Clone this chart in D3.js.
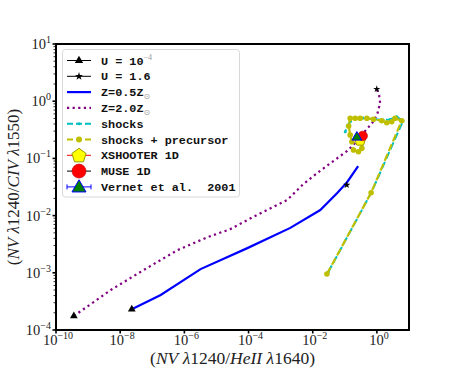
<!DOCTYPE html>
<html>
<head>
<meta charset="utf-8">
<script src="https://cdn.jsdelivr.net/npm/d3@7"></script>
<style>
  body { margin: 0; background: #fff; }
  svg { display: block; }
</style>
</head>
<body>
<div id="chart"></div>
<script>
// photoionisation track, Z = 0.5 Zsun (from U = 1e-4 upward)
const z05X = [2.3e-8, 1.83e-7, 3.2e-6, 9.2e-5, 2.0e-3, 0.0172, 0.058, 0.119, 0.26];
const z05Y = [2.3e-4, 4.1e-4, 1.16e-3, 2.7e-3, 6.1e-3, 0.0125, 0.0248, 0.0387, 0.0736];
const z05Star = [0.115, 0.0343];

// photoionisation track, Z = 2.0 Zsun (ends at U = 1.6)
const z2X = [3.6e-10, 5.1e-9, 5.4e-8, 6.2e-7, 5.3e-6, 2.7e-5, 1.4e-4, 1.6e-3, 5.1e-3, 1.39e-2,
             4.4e-2, 0.119, 0.243, 0.43, 0.71, 1.01, 1.26, 1.17, 0.99];
const z2Y = [1.76e-4, 5.0e-4, 1.12e-3, 2.5e-3, 4.2e-3, 5.8e-3, 9.5e-3, 1.87e-2, 3.56e-2, 5.56e-2,
             0.090, 0.135, 0.201, 0.301, 0.416, 0.574, 0.93, 1.28, 1.63];

// shock grids
const shockX = [0.0305, 0.684, 6.5, 4.15, 2.57, 1.56, 0.76, 0.372, 0.21, 0.147, 0.119, 0.103];
const shockY = [1.03e-3, 0.0259, 0.451, 0.536, 0.479, 0.469, 0.489, 0.508, 0.498, 0.438, 0.368, 0.293];
const precX = [0.0277, 0.66, 5.94, 3.68, 2.90, 2.03, 1.42, 0.78, 0.485, 0.30, 0.21, 0.147,
               0.132, 0.147, 0.166, 0.186, 0.266, 0.34, 0.34];
const precY = [9.5e-4, 0.0251, 0.456, 0.502, 0.438, 0.42, 0.456, 0.483, 0.502, 0.502, 0.502, 0.502,
               0.368, 0.256, 0.196, 0.140, 0.131, 0.150, 0.196];

// observations
const xshooter = [0.30, 0.206];
const muse = [0.36, 0.247];
const vernet = [0.237, 0.239];

const xTicks = [1e-10, 1e-8, 1e-6, 1e-4, 1e-2, 1e0];
const yTicks = [1e-4, 1e-3, 1e-2, 1e-1, 1e0, 1e1];

const W = 454, H = 371;
const margin = { top: 44, right: 45, bottom: 41, left: 56 };

const svg = d3.select("#chart").append("svg")
  .attr("width", W).attr("height", H);

const x = d3.scaleLog().domain([1e-10, 1e1]).range([margin.left, W - margin.right]);
const y = d3.scaleLog().domain([1e-4, 1e1]).range([H - margin.bottom, margin.top]);

const zip = (xs, ys) => xs.map((v, i) => [v, ys[i]]);
const line = d3.line().x(d => x(d[0])).y(d => y(d[1]));

const tickFont = "'Liberation Serif', 'DejaVu Serif', serif";
const expo = s => s.replace("-", "\u2212");

// y minor ticks
const yMinor = [];
for (let e = -4; e < 1; e++) for (let m = 2; m <= 9; m++) yMinor.push(m * Math.pow(10, e));
svg.append("g").selectAll("line").data(yMinor).join("line")
  .attr("x1", x.range()[0] - 2.5).attr("x2", x.range()[0])
  .attr("y1", d => y(d)).attr("y2", d => y(d))
  .attr("stroke", "#000").attr("stroke-width", 0.8);

// major ticks
svg.append("g").selectAll("line").data(yTicks).join("line")
  .attr("x1", x.range()[0] - 3.5).attr("x2", x.range()[0])
  .attr("y1", d => y(d)).attr("y2", d => y(d))
  .attr("stroke", "#000").attr("stroke-width", 1.6);
svg.append("g").selectAll("line").data(xTicks).join("line")
  .attr("x1", d => x(d)).attr("x2", d => x(d))
  .attr("y1", y.range()[0]).attr("y2", y.range()[0] + 3.5)
  .attr("stroke", "#000").attr("stroke-width", 1.6);

// tick labels
const yl = svg.append("g").selectAll("text").data(yTicks).join("text")
  .attr("x", x.range()[0] - 5).attr("y", d => y(d) + 5)
  .attr("text-anchor", "end")
  .attr("font-family", tickFont).attr("font-size", 14.5).attr("fill", "#222");
yl.append("tspan").text("10");
yl.append("tspan").attr("dy", -6).attr("font-size", 10)
  .text(d => expo(String(Math.round(Math.log10(d)))));

const xl = svg.append("g").selectAll("text").data(xTicks).join("text")
  .attr("x", d => x(d) + 2).attr("y", y.range()[0] + 15)
  .attr("text-anchor", "middle")
  .attr("font-family", tickFont).attr("font-size", 14.5).attr("fill", "#222");
xl.append("tspan").text("10");
xl.append("tspan").attr("dy", -6).attr("font-size", 10)
  .text(d => expo(String(Math.round(Math.log10(d)))));

// axis labels
function mathLabel(sel, parts) {
  parts.forEach(p => sel.append("tspan").attr("font-style", p[1] ? "italic" : "normal").text(p[0]));
}
const xlab = svg.append("text")
  .attr("x", (x.range()[0] + x.range()[1]) / 2).attr("y", 364)
  .attr("text-anchor", "middle").attr("font-family", tickFont)
  .attr("font-size", 17.5).attr("fill", "#222");
mathLabel(xlab, [["(", 0], ["NV", 1], [" ", 0], ["\u03bb", 1], ["1240/", 0], ["HeII", 1], [" ", 0], ["\u03bb", 1], ["1640)", 0]]);

const ylab = svg.append("text")
  .attr("transform", `translate(19,${(y.range()[0] + y.range()[1]) / 2}) rotate(-90)`)
  .attr("text-anchor", "middle").attr("font-family", tickFont)
  .attr("font-size", 17).attr("fill", "#222");
mathLabel(ylab, [["(", 0], ["NV", 1], [" ", 0], ["\u03bb", 1], ["1240/", 0], ["CIV", 1], [" ", 0], ["\u03bb", 1], ["1550)", 0]]);

// data
const plot = svg.append("g");

plot.append("path").datum(zip(z05X, z05Y)).attr("d", line)
  .attr("fill", "none").attr("stroke", "#0000ff").attr("stroke-width", 2.2);

plot.append("path").datum(zip(z2X, z2Y)).attr("d", line)
  .attr("fill", "none").attr("stroke", "#800080").attr("stroke-width", 2.2)
  .attr("stroke-dasharray", "2.2,3.4");

const shockPts = zip(shockX, shockY);
plot.append("path").datum(shockPts).attr("d", line)
  .attr("fill", "none").attr("stroke", "#00bfbf").attr("stroke-width", 2)
  .attr("stroke-dasharray", "7.4,3.2");
plot.append("g").selectAll("circle").data(shockPts).join("circle")
  .attr("cx", d => x(d[0])).attr("cy", d => y(d[1])).attr("r", 1.5).attr("fill", "#00bfbf");

const precPts = zip(precX, precY);
plot.append("path").datum(precPts).attr("d", line)
  .attr("fill", "none").attr("stroke", "#bfbf00").attr("stroke-width", 2.2)
  .attr("stroke-dasharray", "7.4,3.2");
plot.append("g").selectAll("circle").data(precPts).join("circle")
  .attr("cx", d => x(d[0])).attr("cy", d => y(d[1])).attr("r", 2.8).attr("fill", "#bfbf00");

// U markers
const tri = d3.symbol().type(d3.symbolTriangle);
const star = d3.symbol().type(d3.symbolStar);
[[z05X[0], z05Y[0]], [z2X[0], z2Y[0]]].forEach(p => {
  plot.append("path").attr("d", tri.size(26)())
    .attr("transform", `translate(${x(p[0])},${y(p[1])})`).attr("fill", "#000");
});
[z05Star, [z2X[z2X.length - 1], z2Y[z2Y.length - 1]]].forEach(p => {
  plot.append("path").attr("d", star.size(16)())
    .attr("transform", `translate(${x(p[0])},${y(p[1])})`).attr("fill", "#000");
});

function pentagon(r) {
  const pts = d3.range(5).map(k => {
    const a = -Math.PI / 2 + k * 2 * Math.PI / 5;
    return [r * Math.cos(a), r * Math.sin(a)];
  });
  return "M" + pts.map(p => p.join(",")).join("L") + "Z";
}

// observations
plot.append("path").attr("d", pentagon(5.8))
  .attr("transform", `translate(${x(xshooter[0])},${y(xshooter[1])})`)
  .attr("fill", "#ffff00").attr("stroke", "#9a9a00").attr("stroke-width", 1);
plot.append("circle").attr("cx", x(muse[0])).attr("cy", y(muse[1])).attr("r", 4.8)
  .attr("fill", "#ff0000").attr("stroke", "#c00000").attr("stroke-width", 0.6);
plot.append("path").attr("d", tri.size(42)())
  .attr("transform", `translate(${x(vernet[0])},${y(vernet[1]) + 0.5})`)
  .attr("fill", "#008000").attr("stroke", "#0000ff").attr("stroke-width", 1);

// frame
svg.append("rect")
  .attr("x", x.range()[0]).attr("y", y.range()[1])
  .attr("width", x.range()[1] - x.range()[0]).attr("height", y.range()[0] - y.range()[1])
  .attr("fill", "none").attr("stroke", "#000").attr("stroke-width", 2);

// legend
const legendItems = [
  { label: "U = 10", sup: "\u22124", kind: "tri" },
  { label: "U = 1.6", kind: "star" },
  { label: "Z=0.5Z", sub: "\u2299", kind: "blue" },
  { label: "Z=2.0Z", sub: "\u2299", kind: "purple" },
  { label: "shocks", kind: "cyan" },
  { label: "shocks + precursor", kind: "yellow" },
  { label: "XSHOOTER 1D", kind: "xsh" },
  { label: "MUSE 1D", kind: "muse" },
  { label: "Vernet et al.  2001", kind: "vernet" }
];

const leg = svg.append("g");
leg.append("rect").attr("x", 62.5).attr("y", 49.5).attr("width", 177).attr("height", 147.5)
  .attr("rx", 3).attr("fill", "#fff").attr("fill-opacity", 0.85)
  .attr("stroke", "#d8d8d8").attr("stroke-width", 1);

const hx0 = 67, hx1 = 91, hxm = 79;
legendItems.forEach((it, i) => {
  const cy = 60.5 + i * 15.8;
  const g = leg.append("g");
  const hline = (color, w, dash) => g.append("line")
    .attr("x1", hx0).attr("x2", hx1).attr("y1", cy).attr("y2", cy)
    .attr("stroke", color).attr("stroke-width", w).attr("stroke-dasharray", dash || null);
  switch (it.kind) {
    case "tri":
      hline("#000", 1);
      g.append("path").attr("d", tri.size(30)()).attr("transform", `translate(${hxm},${cy})`).attr("fill", "#000");
      break;
    case "star":
      hline("#000", 1);
      g.append("path").attr("d", star.size(20)()).attr("transform", `translate(${hxm},${cy})`).attr("fill", "#000");
      break;
    case "blue": hline("#0000ff", 2.2); break;
    case "purple": hline("#800080", 2.2, "2.2,3.4"); break;
    case "cyan":
      hline("#00bfbf", 2, "6,3");
      g.append("circle").attr("cx", hxm).attr("cy", cy).attr("r", 1.5).attr("fill", "#00bfbf");
      break;
    case "yellow":
      hline("#bfbf00", 2, "6,3");
      g.append("circle").attr("cx", hxm).attr("cy", cy).attr("r", 3).attr("fill", "#bfbf00");
      break;
    case "xsh":
      hline("#ff0000", 1);
      g.append("path").attr("d", pentagon(7.5)).attr("transform", `translate(${hxm},${cy + 0.5})`)
        .attr("fill", "#ffff00").attr("stroke", "#9a9a00").attr("stroke-width", 1);
      break;
    case "muse":
      hline("#000", 1);
      g.append("circle").attr("cx", hxm).attr("cy", cy).attr("r", 7)
        .attr("fill", "#ff0000").attr("stroke", "#c00000").attr("stroke-width", 0.6);
      break;
    case "vernet":
      hline("#0000ff", 1);
      [hx0, hx1].forEach(cx => g.append("line").attr("x1", cx).attr("x2", cx)
        .attr("y1", cy - 2.5).attr("y2", cy + 2.5).attr("stroke", "#0000ff").attr("stroke-width", 1));
      g.append("path").attr("d", tri.size(85)()).attr("transform", `translate(${hxm},${cy + 1})`)
        .attr("fill", "#008000").attr("stroke", "#0000ff").attr("stroke-width", 1);
      break;
  }
  const t = g.append("text").attr("x", 101).attr("y", cy + 4)
    .attr("font-family", "'Liberation Mono', 'DejaVu Sans Mono', monospace")
    .attr("font-weight", "bold").attr("font-size", 11.8).attr("fill", "#111")
    .style("white-space", "pre");
  t.append("tspan").text(it.label);
  if (it.sup) t.append("tspan").attr("dy", -5).attr("font-size", 8).attr("font-weight", "normal")
    .attr("fill", "#999").attr("font-family", tickFont).text(it.sup);
  if (it.sub) t.append("tspan").attr("dy", 3).attr("font-size", 8).attr("font-weight", "normal")
    .attr("fill", "#999").attr("font-family", "'DejaVu Sans', sans-serif").text(it.sub);
});
</script>
</body>
</html>
